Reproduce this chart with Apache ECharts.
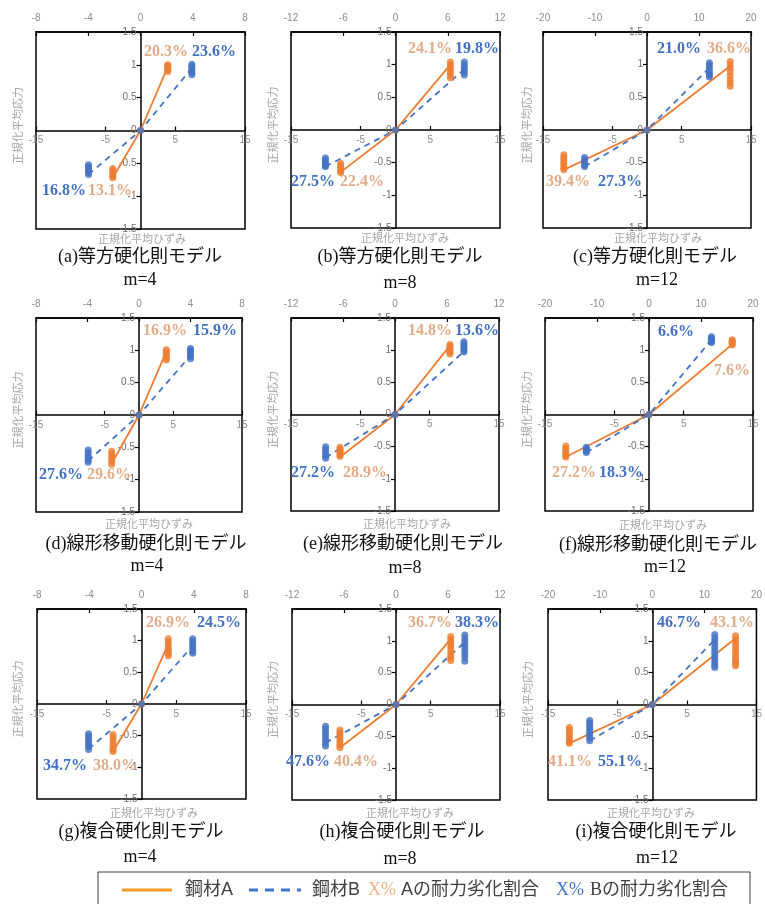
<!DOCTYPE html>
<html><head><meta charset="utf-8">
<script src="https://cdn.jsdelivr.net/npm/echarts@6/dist/echarts.min.js"></script>
<style>html,body{margin:0;padding:0;background:#fff}#c{width:765px;height:904px}</style>
</head><body><div id="c"></div>
<script>
// ================= DATA =================
const panelLetters = ['a','b','c','d','e','f','g','h','i'];
const modelNames = ['等方硬化則モデル','等方硬化則モデル','等方硬化則モデル',
  '線形移動硬化則モデル','線形移動硬化則モデル','線形移動硬化則モデル',
  '複合硬化則モデル','複合硬化則モデル','複合硬化則モデル'];
const mLabels = ['m=4','m=8','m=12','m=4','m=8','m=12','m=4','m=8','m=12'];
const topAxisMax = [8,12,20,8,12,20,8,12,20];
const topAxisInterval = [4,6,10,4,6,10,4,6,10];
const bottomAxisRange = [-15, 15];
const bottomAxisInterval = 10;
const yAxisRange = [-1.5, 1.5];
const yAxisInterval = 0.5;
const xAxisName = '正規化平均ひずみ';
const yAxisName = '正規化平均応力';
const legendTexts = ['鋼材A','鋼材B','X%','Aの耐力劣化割合','X%','Bの耐力劣化割合'];

// line of 鋼材A (solid) : [negative peak], origin, [positive peak]   (top-axis strain units)
const lineA = [
  [[-2.12,-0.72],[0,0],[2.09,0.97]],
  [[-6.3,-0.645],[0,0],[6.3,1.0]],
  [[-16.0,-0.61],[0,0],[16.0,0.98]],
  [[-2.12,-0.75],[0,0],[2.12,0.98]],
  [[-6.34,-0.66],[0,0],[6.34,1.07]],
  [[-16.0,-0.66],[0,0],[16.0,1.09]],
  [[-2.18,-0.75],[0,0],[2.05,0.95]],
  [[-6.47,-0.68],[0,0],[6.32,1.03]],
  [[-15.9,-0.61],[0,0],[16.0,1.04]]
];
// line of 鋼材B (dashed)
const lineB = [
  [[-3.98,-0.67],[0,0],[3.93,0.95]],
  [[-8.05,-0.56],[0,0],[7.9,0.93]],
  [[-12.0,-0.56],[0,0],[12.0,0.95]],
  [[-3.95,-0.71],[0,0],[4.0,0.92]],
  [[-8.0,-0.67],[0,0],[7.95,0.98]],
  [[-12.05,-0.59],[0,0],[12.0,1.16]],
  [[-4.05,-0.71],[0,0],[3.92,0.92]],
  [[-8.13,-0.60],[0,0],[7.94,0.98]],
  [[-12.0,-0.57],[0,0],[12.0,1.02]]
];
// peak strain of each dot column [negative, positive]
const stripXA = [[-2.12,2.09],[-6.3,6.3],[-16.0,16.0],[-2.12,2.12],[-6.34,6.34],[-16.0,16.0],[-2.18,2.05],[-6.47,6.32],[-15.9,16.0]];
const stripXB = [[-3.98,3.93],[-8.05,7.9],[-12.0,12.0],[-3.95,4.0],[-8.0,7.95],[-12.05,12.0],[-4.05,3.92],[-8.13,7.94],[-12.0,12.0]];
// peak stresses per cycle
const peaksAPos = [
  [1.00,0.98,0.96,0.94,0.92,0.90],
  [1.04,1.00,0.96,0.92,0.88,0.84,0.80],
  [1.05,1.00,0.95,0.89,0.83,0.77,0.72,0.67],
  [1.01,0.98,0.95,0.92,0.88,0.85],
  [1.09,1.06,1.03,1.00,0.97,0.94],
  [1.16,1.14,1.12,1.10,1.08],
  [1.03,0.98,0.93,0.88,0.84,0.80,0.76],
  [1.07,1.02,0.97,0.92,0.87,0.82,0.77,0.73,0.69],
  [1.08,1.03,0.98,0.93,0.88,0.83,0.78,0.73,0.68,0.64,0.61]
];
const peaksANeg = [
  [-0.58,-0.61,-0.64,-0.67,-0.70,-0.72],
  [-0.51,-0.54,-0.57,-0.60,-0.63,-0.65],
  [-0.38,-0.42,-0.46,-0.50,-0.54,-0.58,-0.61],
  [-0.56,-0.60,-0.64,-0.68,-0.72,-0.76],
  [-0.51,-0.54,-0.57,-0.60,-0.63,-0.65],
  [-0.49,-0.53,-0.57,-0.61,-0.64,-0.66],
  [-0.48,-0.53,-0.58,-0.63,-0.68,-0.72,-0.75],
  [-0.40,-0.44,-0.48,-0.52,-0.56,-0.60,-0.64,-0.68],
  [-0.36,-0.40,-0.44,-0.48,-0.52,-0.56,-0.59,-0.61]
];
const peaksBPos = [
  [1.01,0.98,0.94,0.91,0.88,0.85],
  [1.04,1.00,0.96,0.92,0.88,0.84],
  [1.03,0.99,0.95,0.91,0.87,0.84,0.81],
  [1.03,1.00,0.97,0.93,0.90,0.87],
  [1.13,1.10,1.07,1.04,1.00,0.97],
  [1.21,1.19,1.17,1.15,1.13,1.12],
  [1.03,0.99,0.95,0.91,0.87,0.83,0.80],
  [1.09,1.04,0.99,0.94,0.89,0.84,0.79,0.74,0.68],
  [1.10,1.05,1.00,0.95,0.90,0.85,0.80,0.75,0.70,0.65,0.61,0.58]
];
const peaksBNeg = [
  [-0.52,-0.55,-0.58,-0.61,-0.64,-0.67],
  [-0.43,-0.46,-0.49,-0.52,-0.55,-0.56],
  [-0.42,-0.45,-0.48,-0.51,-0.54,-0.56],
  [-0.54,-0.58,-0.62,-0.66,-0.70,-0.73],
  [-0.50,-0.54,-0.58,-0.62,-0.65,-0.68],
  [-0.51,-0.53,-0.55,-0.57,-0.59],
  [-0.47,-0.51,-0.55,-0.59,-0.63,-0.67,-0.72],
  [-0.34,-0.38,-0.43,-0.47,-0.52,-0.56,-0.61,-0.65],
  [-0.25,-0.29,-0.33,-0.37,-0.41,-0.45,-0.49,-0.53,-0.57]
];
// degradation ratios (%)
const pctAPos = ['20.3','24.1','36.6','16.9','14.8','7.6','26.9','36.7','43.1'];
const pctBPos = ['23.6','19.8','21.0','15.9','13.6','6.6','24.5','38.3','46.7'];
const pctANeg = ['13.1','22.4','39.4','29.6','28.9','27.2','38.0','40.4','41.1'];
const pctBNeg = ['16.8','27.5','27.3','27.6','27.2','18.3','34.7','47.6','55.1'];

// ================= LAYOUT =================
const gridLeft   = [36, 291, 543, 36, 291, 545, 37, 292, 548];
const gridTop    = [32, 32, 32, 318, 318, 318, 609, 609, 609];
const gridWidth  = [209, 209, 208, 206, 208, 208, 209, 208, 209];
const gridHeight = [197, 196, 196, 194, 193, 193, 190, 191, 191];
const yNameX = [18, 273, 527, 18, 273, 527, 18, 273, 528];
const xNamePos = [[142,239],[405,238],[658,238],[149,524],[407,524],[663,525],[154,813],[410,813],[651,813]];
const captionPos = [[140,257],[400,257],[655,257],[146,544],[403,544],[658,545],[141,832],[402,832],[656,832]];
const mPos = [[140,280],[400,283],[657,280],[147,566],[405,568],[665,567],[140,857],[400,859],[657,858]];
// label anchors: [A+, B+, A-, B-] (left x, middle y)
const pctPos = [
  [[144,52],[192,52],[88,191],[42,191]],
  [[408,49],[455,49],[340,182],[291,182]],
  [[707,49],[657,49],[546,182],[598,182]],
  [[143,331],[193,331],[87,475],[39,475]],
  [[408,331],[455,331],[343,473],[291,473]],
  [[714,371],[658,332],[552,473],[599,473]],
  [[146,623],[197,623],[93,766],[43,766]],
  [[408,623],[455,623],[334,762],[286,762]],
  [[710,623],[657,623],[548,762],[598,762]]
];

const COL_A = '#ED7D31', COL_B = '#4472C4';
const COL_A_TXT = '#E0AC8A', COL_B_TXT = '#4470C0';
const SANS = "'Liberation Sans','Noto Sans CJK JP'";
const JP = "'Noto Sans CJK JP'";
const SERIF = "'Liberation Serif','Noto Sans CJK JP'";

const grids = [], xAxes = [], yAxes = [], series = [], graphics = [];
for (let i = 0; i < 9; i++) {
  grids.push({left: gridLeft[i], top: gridTop[i], width: gridWidth[i], height: gridHeight[i],
    show: true, borderColor: '#000', borderWidth: 1.5, backgroundColor: 'transparent'});
  // bottom axis (primary) : moved up to y = 0 (middle of the symmetric grid)
  xAxes.push({gridIndex: i, type: 'value', position: 'bottom', offset: -gridHeight[i] / 2,
    min: bottomAxisRange[0], max: bottomAxisRange[1], interval: bottomAxisInterval,
    axisLine: {onZero: false, lineStyle: {color: '#000', width: 1.5}},
    axisTick: {inside: true, length: 4, lineStyle: {color: '#000', width: 1.2}},
    axisLabel: {color: '#8c8c8c', fontSize: 10, margin: 5, fontFamily: SANS},
    splitLine: {show: false}});
  // top axis (secondary)
  xAxes.push({gridIndex: i, type: 'value', position: 'top',
    min: -topAxisMax[i], max: topAxisMax[i], interval: topAxisInterval[i],
    axisLine: {onZero: false, lineStyle: {color: '#000', width: 1.5}},
    axisTick: {inside: true, length: 4, lineStyle: {color: '#000', width: 1.2}},
    axisLabel: {color: '#8c8c8c', fontSize: 10, margin: 9, fontFamily: SANS},
    splitLine: {show: false}});
  // y axis moved to x = 0 (middle of the symmetric grid)
  yAxes.push({gridIndex: i, type: 'value', position: 'left', offset: -gridWidth[i] / 2,
    min: yAxisRange[0], max: yAxisRange[1], interval: yAxisInterval,
    axisLine: {onZero: false, lineStyle: {color: '#000', width: 1.5}},
    axisTick: {inside: false, length: 4, lineStyle: {color: '#000', width: 1.2}},
    axisLabel: {color: '#6e6e6e', fontSize: 10, margin: 4, fontFamily: SANS},
    splitLine: {show: false}});

  const dotsA = [], dotsB = [];
  peaksAPos[i].forEach(v => dotsA.push([stripXA[i][1], v]));
  peaksANeg[i].forEach(v => dotsA.push([stripXA[i][0], v]));
  peaksBPos[i].forEach(v => dotsB.push([stripXB[i][1], v]));
  peaksBNeg[i].forEach(v => dotsB.push([stripXB[i][0], v]));
  dotsA.push([0, 0]); dotsB.push([0, 0]);

  series.push({name: '鋼材A', type: 'line', xAxisIndex: 2*i+1, yAxisIndex: i, data: lineA[i],
    symbol: 'none', lineStyle: {color: COL_A, width: 1.8}, z: 2, silent: true});
  series.push({name: '鋼材B', type: 'line', xAxisIndex: 2*i+1, yAxisIndex: i, data: lineB[i],
    symbol: 'none', lineStyle: {color: COL_B, width: 1.8, type: [6, 5]}, z: 3, silent: true});
  series.push({type: 'scatter', xAxisIndex: 2*i+1, yAxisIndex: i, data: dotsA,
    symbol: 'circle', symbolSize: 7, itemStyle: {color: COL_A}, z: 4, silent: true});
  series.push({type: 'scatter', xAxisIndex: 2*i+1, yAxisIndex: i, data: dotsB,
    symbol: 'circle', symbolSize: 7, itemStyle: {color: COL_B}, z: 5, silent: true});

  // axis names
  graphics.push({type: 'text', x: yNameX[i], y: gridTop[i] + gridHeight[i]/2 - 5, rotation: Math.PI/2,
    style: {text: yAxisName, fontSize: 11, fontFamily: JP, fill: '#a6a6a6', textAlign: 'center', textVerticalAlign: 'middle'}});
  graphics.push({type: 'text', x: xNamePos[i][0], y: xNamePos[i][1],
    style: {text: xAxisName, fontSize: 11, fontFamily: JP, fill: '#a6a6a6', textAlign: 'center', textVerticalAlign: 'middle'}});
  // captions
  graphics.push({type: 'text', x: captionPos[i][0], y: captionPos[i][1],
    style: {text: '(' + panelLetters[i] + ')' + modelNames[i], fontSize: 18, fontFamily: SERIF, fill: '#111', textAlign: 'center', textVerticalAlign: 'middle'}});
  graphics.push({type: 'text', x: mPos[i][0], y: mPos[i][1],
    style: {text: mLabels[i], fontSize: 18, fontFamily: SERIF, fill: '#111', textAlign: 'center', textVerticalAlign: 'middle'}});
  // percentage labels
  const pcts = [[pctAPos[i], COL_A_TXT], [pctBPos[i], COL_B_TXT], [pctANeg[i], COL_A_TXT], [pctBNeg[i], COL_B_TXT]];
  pcts.forEach((p, k) => {
    graphics.push({type: 'text', x: pctPos[i][k][0], y: pctPos[i][k][1], z: 100,
      style: {text: p[0] + '%', fontSize: 16, fontWeight: 'bold', fontFamily: "'Liberation Serif'", fill: p[1], textAlign: 'left', textVerticalAlign: 'middle'}});
  });
}

// legend box
graphics.push({type: 'rect', shape: {x: 98, y: 872, width: 652, height: 40}, style: {fill: '#fff', stroke: '#404040', lineWidth: 1}, z: 50});
graphics.push({type: 'line', shape: {x1: 122, y1: 890, x2: 172, y2: 890}, style: {stroke: '#F59B23', lineWidth: 3}, z: 51});
graphics.push({type: 'text', x: 185, y: 890, z: 51, style: {text: legendTexts[0], fontSize: 18, fontFamily: SANS, fill: '#404040', textVerticalAlign: 'middle'}});
graphics.push({type: 'line', shape: {x1: 249, y1: 890, x2: 301, y2: 890}, style: {stroke: COL_B, lineWidth: 3, lineDash: [9, 7]}, z: 51});
graphics.push({type: 'text', x: 312, y: 890, z: 51, style: {text: legendTexts[1], fontSize: 18, fontFamily: SANS, fill: '#404040', textVerticalAlign: 'middle'}});
graphics.push({type: 'text', x: 368, y: 890, z: 51, style: {text: legendTexts[2], fontSize: 18, fontFamily: "'Liberation Serif'", fill: '#F4B183', textVerticalAlign: 'middle'}});
graphics.push({type: 'text', x: 401, y: 890, z: 51, style: {text: legendTexts[3], fontSize: 18, fontFamily: SANS, fill: '#404040', textVerticalAlign: 'middle'}});
graphics.push({type: 'text', x: 556, y: 890, z: 51, style: {text: legendTexts[4], fontSize: 18, fontFamily: "'Liberation Serif'", fill: COL_B, textVerticalAlign: 'middle'}});
graphics.push({type: 'text', x: 590, y: 890, z: 51, style: {text: legendTexts[5], fontSize: 18, fontFamily: SERIF, fill: '#404040', textVerticalAlign: 'middle'}});

const chart = echarts.init(document.getElementById('c'), null, {renderer: 'canvas', width: 765, height: 904});
chart.setOption({
  animation: false,
  backgroundColor: '#fff',
  grid: grids, xAxis: xAxes, yAxis: yAxes, series: series, graphic: graphics
});
</script></body></html>
